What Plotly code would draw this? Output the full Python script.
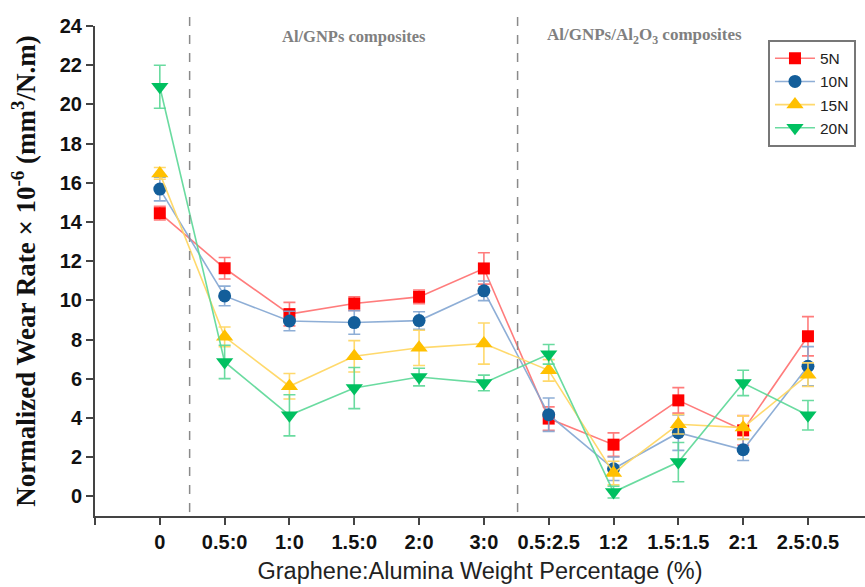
import plotly.graph_objects as go

categories = ["0", "0.5:0", "1:0", "1.5:0", "2:0", "3:0", "0.5:2.5", "1:2", "1.5:1.5", "2:1", "2.5:0.5"]

wear_5N = [14.45, 11.64, 9.3, 9.84, 10.18, 11.63, 3.97, 2.64, 4.9, 3.37, 8.17]
err_5N = [0.35, 0.55, 0.6, 0.35, 0.35, 0.8, 0.6, 0.6, 0.65, 0.75, 1.0]

wear_10N = [15.68, 10.23, 8.95, 8.87, 8.97, 10.49, 4.17, 1.41, 3.25, 2.38, 6.64]
err_10N = [0.6, 0.5, 0.5, 0.6, 0.45, 0.5, 0.85, 0.6, 0.9, 0.55, 1.0]

wear_15N = [16.48, 8.14, 5.62, 7.15, 7.58, 7.8, 6.43, 1.19, 3.68, 3.51, 6.21]
err_15N = [0.3, 0.5, 0.65, 0.8, 0.9, 1.05, 0.55, 0.6, 0.5, 0.6, 0.6]

wear_20N = [20.9, 6.86, 4.14, 5.53, 6.09, 5.79, 7.25, 0.22, 1.75, 5.79, 4.14]
err_20N = [1.1, 0.85, 1.05, 1.05, 0.45, 0.4, 0.5, 0.3, 1.0, 0.65, 0.75]

series = [
    ("5N", wear_5N, err_5N, "#FF0000", "rgba(255,110,110,0.9)", "square", 12),
    ("10N", wear_10N, err_10N, "#135E9A", "rgba(130,165,210,0.9)", "circle", 13),
    ("15N", wear_15N, err_15N, "#FFC000", "rgba(255,215,100,0.95)", "triangle-up", 15),
    ("20N", wear_20N, err_20N, "#00C060", "rgba(90,215,150,0.9)", "triangle-down", 15),
]

xs = list(range(len(categories)))
fig = go.Figure()
for name, vals, errs, mcol, lcol, sym, sz in series:
    fig.add_trace(go.Scatter(
        x=xs, y=vals, name=name, mode="lines+markers",
        line=dict(color=lcol, width=1.6),
        marker=dict(color=mcol, symbol=sym, size=sz, line=dict(width=0)),
        error_y=dict(type="data", array=errs, visible=True, color=lcol, thickness=1.6, width=6),
    ))

# section separators
for xv in [0.46, 5.52]:
    fig.add_shape(type="line", xref="x", yref="paper", x0=xv, x1=xv, y0=0.008, y1=1.025,
                  line=dict(color="#8a8a8a", width=1.5, dash="dash"))

fig.add_annotation(x=2.99, y=0.979, xref="x", yref="paper", yanchor="middle",
                   text="<b>Al/GNPs composites</b>", showarrow=False,
                   font=dict(family="Liberation Serif", size=16.5, color="#808080"))
fig.add_annotation(x=7.48, y=0.979, xref="x", yref="paper", yanchor="middle",
                   text="<b>Al/GNPs/Al<sub>2</sub>O<sub>3</sub> composites</b>", showarrow=False,
                   font=dict(family="Liberation Serif", size=17, color="#808080"))

fig.update_layout(
    width=865, height=587,
    margin=dict(l=95, r=0, t=26, b=71),
    paper_bgcolor="white", plot_bgcolor="white",
    showlegend=True,
    legend=dict(x=0.874, y=0.972, xanchor="left", yanchor="top",
                bordercolor="#777777", borderwidth=2, bgcolor="white",
                font=dict(family="Liberation Sans", size=15.5, color="#222"),
                tracegroupgap=0, itemwidth=40),
    xaxis=dict(range=[-1, 10.88], tickmode="array", tickvals=[-1] + xs, ticktext=[""] + categories,
               showline=True, linecolor="#444", linewidth=2, ticks="outside", ticklen=7,
               tickwidth=2, tickcolor="#444", showgrid=False, zeroline=False,
               tickfont=dict(family="Liberation Sans", size=20, color="#111", weight="bold"),
               title=dict(text="Graphene:Alumina Weight Percentage (%)", standoff=11,
                          font=dict(family="Liberation Sans", size=23.5, color="#222"))),
    yaxis=dict(range=[-1, 24], tickvals=list(range(0, 25, 2)),
               showline=True, linecolor="#444", linewidth=2, ticks="outside", ticklen=7,
               tickwidth=2, tickcolor="#444", showgrid=False, zeroline=False,
               tickfont=dict(family="Liberation Sans", size=20, color="#111", weight="bold"),
               title=dict(text="<b>Normalized Wear Rate × 10<sup>-6</sup> (mm<sup>3</sup>/N.m)</b>",
                          standoff=16,
                          font=dict(family="Liberation Serif", size=27, color="#111"))),
)

fig.write_html("out.html")
